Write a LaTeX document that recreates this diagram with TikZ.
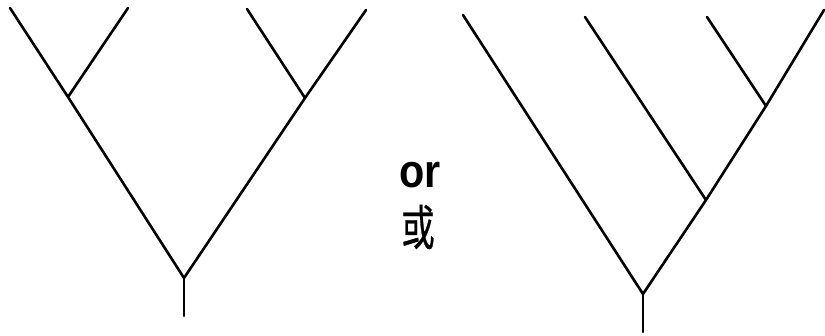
\documentclass[tikz,border=0pt]{standalone}
\usepackage{fontspec}
\newfontfamily\orfont{Liberation Sans}
\newfontfamily\cjk[FakeBold=0.8]{Noto Sans CJK SC}
\begin{document}
\begin{tikzpicture}[x=1pt,y=-1pt,
  branch/.style={line width=2.6pt,line cap=round,line join=round},
  lbl/.style={inner sep=0pt,anchor=center}]
\useasboundingbox (0,0) rectangle (825,335);
% left tree
\coordinate (l1) at (10,8);
\coordinate (l2) at (128,8);
\coordinate (l3) at (247,9);
\coordinate (l4) at (366,10);
\coordinate (lj1) at (68,97);
\coordinate (lj2) at (305,98);
\coordinate (lr) at (184,278);
\coordinate (ls) at (184,316);
\draw[branch] (l1) -- (lj1) -- (lr) -- (lj2) -- (l4);
\draw[branch] (l2) -- (lj1);
\draw[branch] (l3) -- (lj2);
\draw[branch] (lr) -- (ls);
% right tree
\coordinate (r1) at (463,15);
\coordinate (r2) at (585,17);
\coordinate (r3) at (707,17);
\coordinate (r4) at (824,10);
\coordinate (rj3) at (766,106);
\coordinate (rj2) at (706,200);
\coordinate (rr) at (643,294);
\coordinate (rs) at (643,332);
\draw[branch] (r1) -- (rr) -- (rj2) -- (rj3) -- (r4);
\draw[branch] (r2) -- (rj2);
\draw[branch] (r3) -- (rj3);
\draw[branch] (rr) -- (rs);
% labels
\node[lbl,xscale=0.88] (or) at (420,175) {\orfont\bfseries\fontsize{47}{47}\selectfont or};
\node[lbl,xscale=0.9,yscale=1.3] (huo) at (418,227) {\cjk\fontsize{37}{37}\selectfont 或};
\end{tikzpicture}
\end{document}
